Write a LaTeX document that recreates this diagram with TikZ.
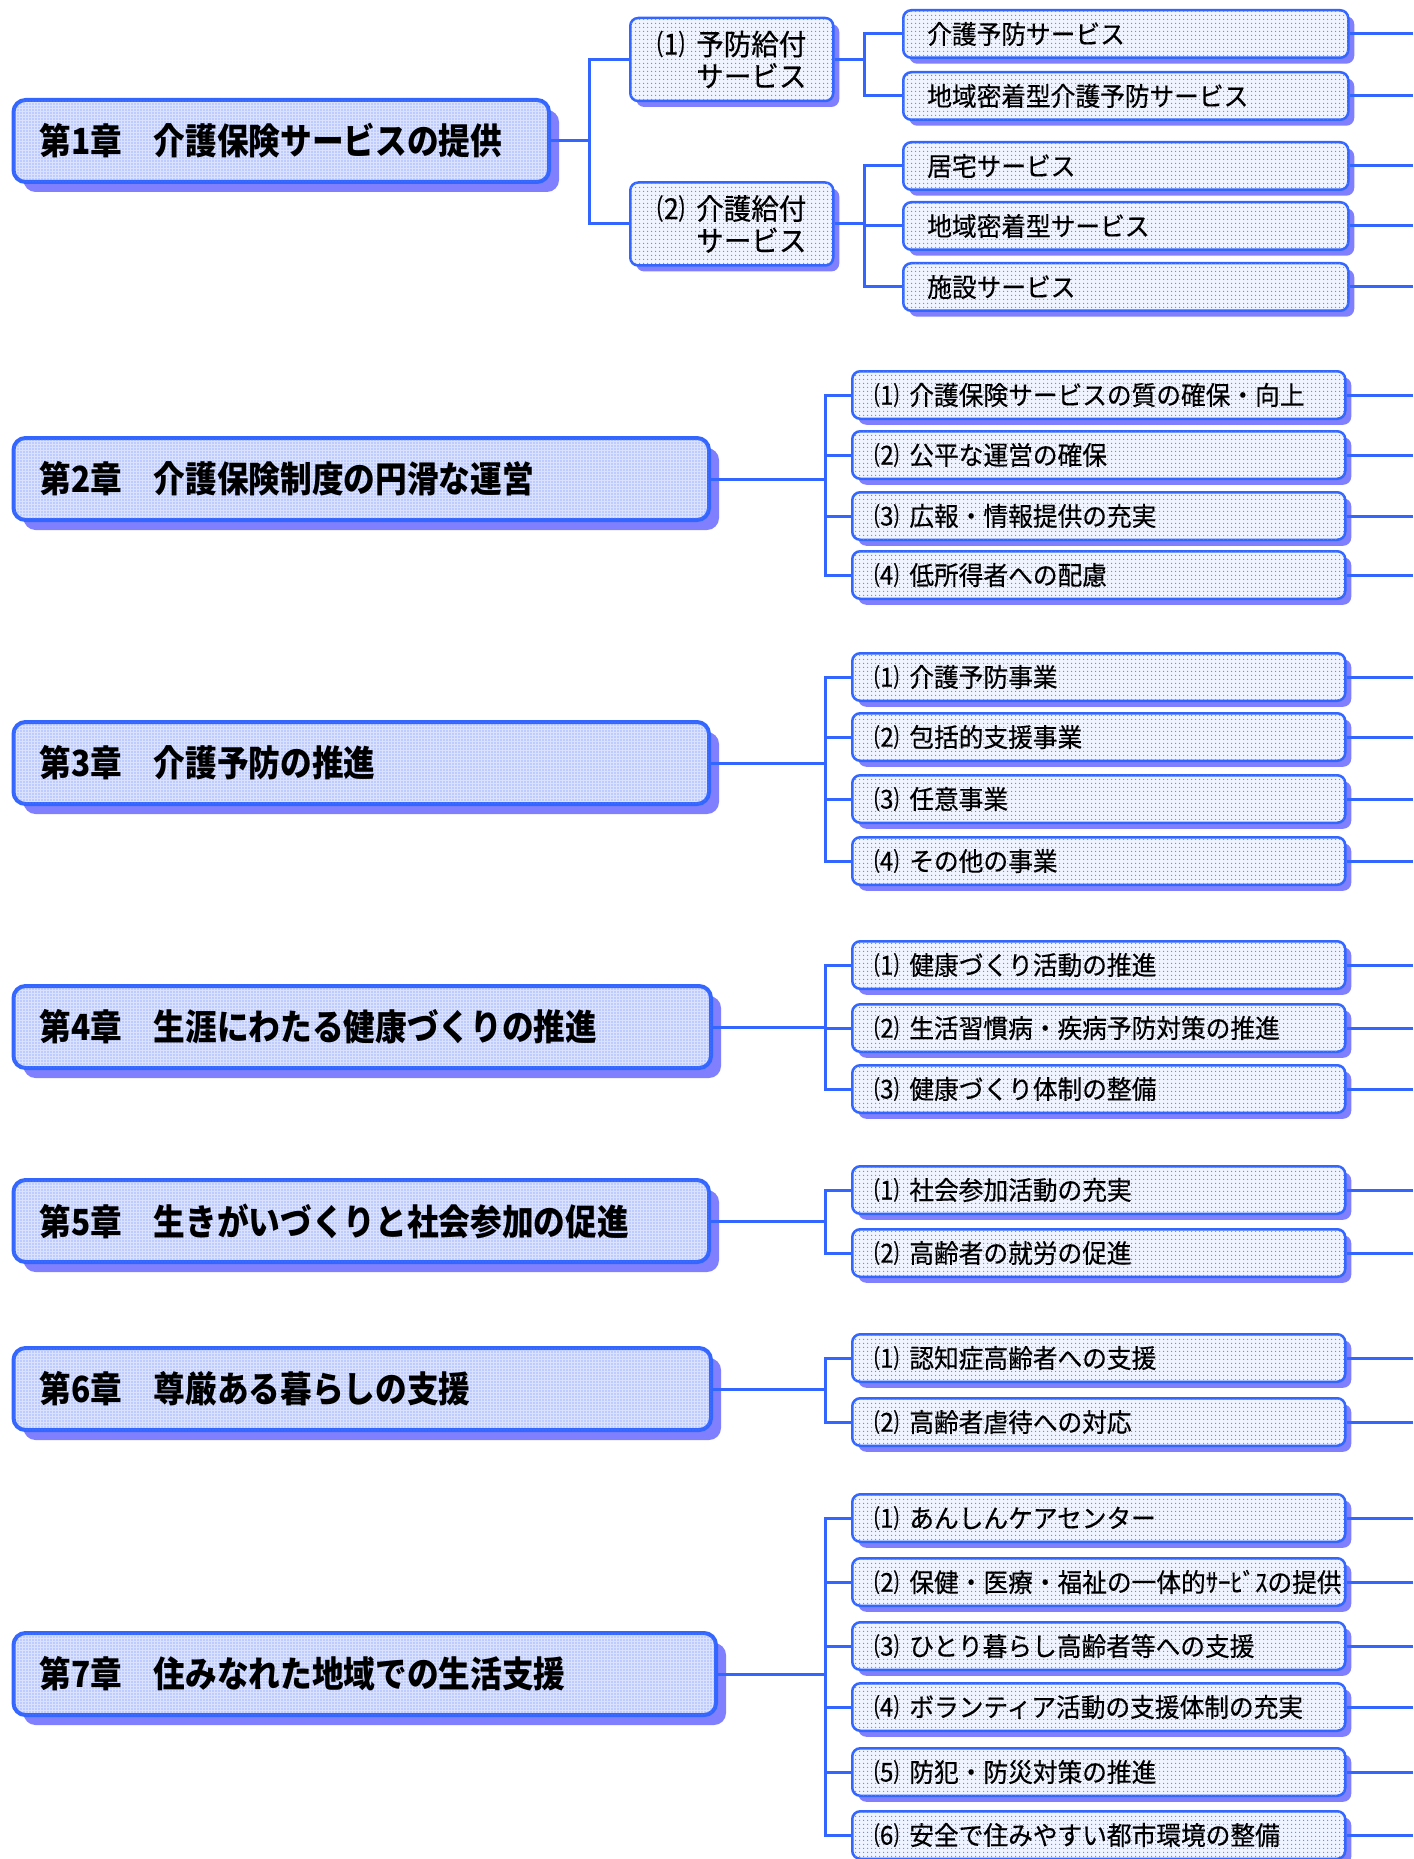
\documentclass[tikz,border=0pt]{standalone}
\usepackage{fontspec}
\newfontfamily\chapfont[FakeStretch=0.88]{Noto Sans CJK JP}
\newfontfamily\itemfont[FakeStretch=0.95,FakeBold=0.4]{Noto Sans CJK JP}
\usetikzlibrary{shadows,patterns.meta}
\newcommand\numsp{\hspace{0.4em}}
\definecolor{bc}{RGB}{51,102,255}
\definecolor{shc}{RGB}{128,128,255}
\definecolor{chapfill}{RGB}{218,226,255}
\definecolor{itemfill}{RGB}{240,244,255}
\definecolor{dotc}{RGB}{95,130,255}
\tikzset{
  chap/.style={draw=bc, line width=4pt, rounded corners=12pt, fill=chapfill,
    anchor=west, inner xsep=26pt, inner ysep=0pt, minimum height=82pt, align=left,
    font=\chapfont\bfseries\fontsize{36}{40}\selectfont,
    drop shadow={shadow xshift=10pt, shadow yshift=-10pt, fill=shc, opacity=1},
    postaction={pattern={Dots[distance=3pt,radius=0.7pt]}, pattern color=dotc}},
  item/.style={draw=bc, line width=2.5pt, rounded corners=8pt, fill=itemfill,
    anchor=west, inner xsep=22pt, inner ysep=0pt, minimum height=47.5pt, align=left,
    font=\itemfont\fontsize{26}{30}\selectfont,
    drop shadow={shadow xshift=6pt, shadow yshift=-6pt, fill=shc, opacity=1},
    postaction={pattern={Dots[distance=4pt,radius=0.85pt]}, pattern color=dotc}},
  mid/.style={item, inner xsep=4pt, minimum width=203pt, minimum height=83pt, align=right,
    font=\itemfont\fontsize{29}{32}\selectfont},
  conn/.style={draw=bc, line width=3pt},
}
\begin{document}
\begin{tikzpicture}[x=1pt,y=-1pt]
\useasboundingbox (0,0) rectangle (1413,1859);
\coordinate (edge) at (1413,0);
\coordinate (j1) at (589,0);
\coordinate (j1s) at (864,0);
\coordinate (jr) at (825,0);

% Chapter 1
\node[chap, text width=483.5pt] (c1) at (11.5,141) {第1章　介護保険サービスの提供};
\node[mid] (m1) at (629,59.5) {⑴\numsp 予防給付\\サービス};
\node[mid] (m2) at (629,224) {⑵\numsp 介護給付\\サービス};
\node[item, inner xsep=24pt, text width=397pt] (a1) at (902,34) {介護予防サービス};
\node[item, inner xsep=24pt, text width=397pt] (a2) at (902,96) {地域密着型介護予防サービス};
\node[item, inner xsep=24pt, text width=397pt] (a3) at (902,166) {居宅サービス};
\node[item, inner xsep=24pt, text width=397pt] (a4) at (902,226) {地域密着型サービス};
\node[item, inner xsep=24pt, text width=397pt] (a5) at (902,287) {施設サービス};

% Chapter 2
\node[chap, text width=643.5pt] (c2) at (11.5,479) {第2章　介護保険制度の円滑な運営};
\node[item, text width=449pt] (b1) at (851,395) {⑴\numsp 介護保険サービスの質の確保・向上};
\node[item, text width=449pt] (b2) at (851,455) {⑵\numsp 公平な運営の確保};
\node[item, text width=449pt] (b3) at (851,516) {⑶\numsp 広報・情報提供の充実};
\node[item, text width=449pt] (b4) at (851,575) {⑷\numsp 低所得者への配慮};

% Chapter 3
\node[chap, text width=643.5pt] (c3) at (11.5,763) {第3章　介護予防の推進};
\node[item, text width=449pt] (d1) at (851,677) {⑴\numsp 介護予防事業};
\node[item, text width=449pt] (d2) at (851,737) {⑵\numsp 包括的支援事業};
\node[item, text width=449pt] (d3) at (851,799) {⑶\numsp 任意事業};
\node[item, text width=449pt] (d4) at (851,861) {⑷\numsp その他の事業};

% Chapter 4
\node[chap, text width=645.5pt] (c4) at (11.5,1027) {第4章　生涯にわたる健康づくりの推進};
\node[item, text width=449pt] (e1) at (851,965) {⑴\numsp 健康づくり活動の推進};
\node[item, text width=449pt] (e2) at (851,1028) {⑵\numsp 生活習慣病・疾病予防対策の推進};
\node[item, text width=449pt] (e3) at (851,1089) {⑶\numsp 健康づくり体制の整備};

% Chapter 5
\node[chap, text width=643.5pt] (c5) at (11.5,1221) {第5章　生きがいづくりと社会参加の促進};
\node[item, text width=449pt] (f1) at (851,1190) {⑴\numsp 社会参加活動の充実};
\node[item, text width=449pt] (f2) at (851,1253) {⑵\numsp 高齢者の就労の促進};

% Chapter 6
\node[chap, text width=645.5pt] (c6) at (11.5,1389) {第6章　尊厳ある暮らしの支援};
\node[item, text width=449pt] (g1) at (851,1358) {⑴\numsp 認知症高齢者への支援};
\node[item, text width=449pt] (g2) at (851,1422) {⑵\numsp 高齢者虐待への対応};

% Chapter 7
\node[chap, text width=650.5pt] (c7) at (11.5,1674) {第7章　住みなれた地域での生活支援};
\node[item, text width=449pt] (h1) at (851,1518) {⑴\numsp あんしんケアセンター};
\node[item, text width=449pt] (h2) at (851,1582) {⑵\numsp 保健・医療・福祉の一体的ｻｰﾋﾞｽの提供};
\node[item, text width=449pt] (h3) at (851,1646) {⑶\numsp ひとり暮らし高齢者等への支援};
\node[item, text width=449pt] (h4) at (851,1707) {⑷\numsp ボランティア活動の支援体制の充実};
\node[item, text width=449pt] (h5) at (851,1772) {⑸\numsp 防犯・防災対策の推進};
\node[item, text width=449pt] (h6) at (851,1835) {⑹\numsp 安全で住みやすい都市環境の整備};

% connectors
\foreach \m in {m1,m2} \draw[conn] (c1.east) -- (c1.east -| j1) |- (\m.west);
\foreach \a in {a1,a2} \draw[conn] (m1.east) -- (m1.east -| j1s) |- (\a.west);
\foreach \a in {a3,a4,a5} \draw[conn] (m2.east) -- (m2.east -| j1s) |- (\a.west);
\foreach \a in {b1,b2,b3,b4} \draw[conn] (c2.east) -- (c2.east -| jr) |- (\a.west);
\foreach \a in {d1,d2,d3,d4} \draw[conn] (c3.east) -- (c3.east -| jr) |- (\a.west);
\foreach \a in {e1,e2,e3} \draw[conn] (c4.east) -- (c4.east -| jr) |- (\a.west);
\foreach \a in {f1,f2} \draw[conn] (c5.east) -- (c5.east -| jr) |- (\a.west);
\foreach \a in {g1,g2} \draw[conn] (c6.east) -- (c6.east -| jr) |- (\a.west);
\foreach \a in {h1,h2,h3,h4,h5,h6} \draw[conn] (c7.east) -- (c7.east -| jr) |- (\a.west);
\foreach \a in {a1,a2,a3,a4,a5,b1,b2,b3,b4,d1,d2,d3,d4,e1,e2,e3,f1,f2,g1,g2,h1,h2,h3,h4,h5,h6}
  \draw[conn] (\a.east) -- (\a.east -| edge);
\end{tikzpicture}
\end{document}
